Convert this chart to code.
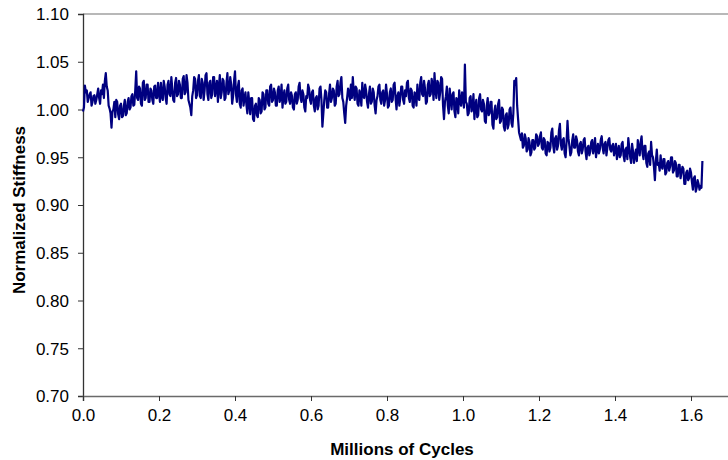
<!DOCTYPE html>
<html lang="en">
  <head>
    <meta charset="UTF-8" />
    <title>Normalized Stiffness</title>
    <style>
      body {
        margin: 0;
        background: #fff;
      }
      svg {
        font-family: "Liberation Sans", Arial, sans-serif;
      }
      .tick-label {
        fill: black;
        font-size: 17px;
      }
      .axis-title {
        fill: black;
        font-size: 17px;
        font-weight: bold;
        text-anchor: middle;
      }
      .line-path {
        fill: none;
        stroke: #000080;
        stroke-width: 2.2;
        stroke-linejoin: round;
      }
    </style>
  </head>
  <body>
    <script src="https://d3js.org/d3.v7.min.js"></script>
    <script>
      // millions of cycles between two readings
      const cycleStep = 0.0025;

      // normalized stiffness, one reading every 0.0025 million cycles
      const stiffness = [
        // 0.0
        0.998, 1.002, 1.025, 1.018, 1.020, 1.008, 1.012, 1.016, 1.018, 1.004,
        1.008, 1.014, 1.015, 1.006, 1.010, 1.016, 1.022, 1.012, 1.006, 1.020,
        1.016, 1.026, 1.012, 1.030, 1.038, 1.024, 1.020, 1.004, 1.001, 0.996,
        0.981, 0.998, 1.000, 1.008, 0.992, 1.010, 1.008, 0.995, 0.990, 1.004,
        // 0.1
        1.006, 0.992, 0.993, 1.004, 1.010, 0.994, 0.996, 1.008, 1.012, 1.000,
        1.002, 1.014, 1.016, 1.004, 1.005, 1.020, 1.040, 1.012, 1.010, 1.024,
        1.022, 1.006, 1.004, 1.028, 1.030, 1.010, 1.012, 1.026, 1.026, 1.008,
        1.008, 1.022, 1.020, 1.010, 1.006, 1.024, 1.025, 1.012, 1.012, 1.028,
        // 0.2
        1.018, 1.008, 1.028, 1.014, 1.010, 1.030, 1.024, 1.012, 1.006, 1.026,
        1.030, 1.016, 1.014, 1.034, 1.022, 1.010, 1.008, 1.028, 1.033, 1.014,
        1.016, 1.030, 1.026, 1.012, 1.012, 1.032, 1.035, 1.016, 1.018, 1.036,
        1.028, 1.010, 1.006, 1.002, 0.994, 1.014, 1.020, 1.034, 1.032, 1.012,
        // 0.3
        1.015, 1.030, 1.036, 1.014, 1.012, 1.032, 1.028, 1.010, 1.020, 1.036,
        1.038, 1.016, 1.010, 1.028, 1.030, 1.012, 1.016, 1.034, 1.034, 1.014,
        1.022, 1.030, 1.008, 1.024, 1.036, 1.012, 1.018, 1.032, 1.030, 1.010,
        1.012, 1.028, 1.038, 1.016, 1.020, 1.034, 1.026, 1.006, 1.014, 1.030,
        // 0.4
        1.040, 1.016, 1.008, 1.024, 1.030, 1.006, 1.002, 1.020, 1.022, 1.004,
        1.012, 1.018, 1.005, 0.996, 1.018, 1.008, 0.995, 1.012, 1.012, 0.990,
        0.988, 1.004, 1.006, 0.994, 0.992, 1.012, 1.010, 0.996, 0.998, 1.018,
        1.016, 1.000, 1.002, 1.020, 1.020, 1.006, 1.004, 1.024, 1.026, 1.008,
        // 0.5
        1.010, 1.022, 1.018, 1.004, 1.004, 1.020, 1.024, 1.008, 1.012, 1.026,
        1.002, 1.014, 1.020, 1.006, 1.008, 1.022, 1.026, 1.010, 1.006, 1.018,
        1.014, 1.002, 1.000, 1.016, 1.018, 1.006, 1.010, 1.024, 1.028, 1.012,
        1.008, 1.020, 1.016, 1.002, 0.998, 1.014, 1.012, 1.026, 1.022, 1.010,
        // 0.6
        1.006, 1.018, 1.020, 1.004, 0.998, 1.012, 1.014, 1.000, 1.004, 1.022,
        1.024, 1.010, 0.982, 0.996, 1.010, 1.020, 1.018, 1.002, 1.002, 1.016,
        1.026, 1.008, 1.012, 1.022, 1.020, 1.004, 1.006, 1.024, 1.030, 1.014,
        1.016, 1.028, 1.034, 1.012, 1.008, 0.996, 0.986, 1.004, 1.012, 1.022,
        // 0.7
        1.018, 1.010, 1.026, 1.012, 1.034, 1.018, 1.010, 1.024, 1.022, 1.006,
        1.004, 1.020, 1.016, 1.004, 1.028, 1.014, 1.012, 1.026, 1.020, 1.008,
        1.002, 1.016, 1.024, 1.006, 1.008, 1.022, 1.018, 1.004, 0.996, 1.010,
        1.014, 1.024, 1.026, 1.010, 1.006, 1.018, 1.020, 1.004, 1.010, 1.026,
        // 0.8
        1.016, 1.002, 1.004, 1.018, 1.022, 1.008, 1.010, 1.026, 1.028, 1.012,
        1.000, 1.014, 1.018, 1.004, 1.012, 1.024, 1.024, 1.010, 1.006, 1.020,
        1.014, 1.028, 1.030, 1.012, 1.008, 1.022, 1.020, 1.004, 1.002, 1.018,
        1.016, 1.004, 1.026, 1.012, 1.010, 1.028, 1.034, 1.016, 1.014, 1.030,
        // 0.9
        1.022, 1.006, 1.008, 1.026, 1.030, 1.014, 1.016, 1.032, 1.026, 1.010,
        1.038, 1.020, 1.012, 1.030, 1.028, 1.010, 1.018, 1.034, 1.032, 1.004,
        0.990, 1.008, 1.014, 1.024, 1.004, 0.996, 1.022, 1.010, 1.000, 1.016,
        1.018, 0.998, 0.992, 1.012, 1.010, 0.996, 1.020, 1.008, 1.004, 1.018,
        // 1.0
        1.012, 1.002, 1.047, 1.008, 1.006, 0.994, 0.996, 1.012, 1.014, 0.998,
        1.002, 1.016, 0.990, 1.004, 1.010, 0.992, 0.994, 1.012, 1.016, 1.000,
        0.998, 1.010, 1.006, 0.988, 0.986, 1.004, 1.012, 0.994, 0.996, 1.008,
        1.008, 0.984, 0.980, 0.998, 1.004, 0.990, 0.992, 1.006, 1.010, 0.986,
        // 1.1
        0.988, 1.002, 1.000, 0.982, 0.978, 0.994, 0.996, 0.980, 0.984, 1.000,
        1.002, 0.986, 0.982, 0.996, 1.030, 1.026, 1.033, 1.004, 0.990, 0.976,
        0.972, 0.968, 0.975, 0.960, 0.962, 0.974, 0.970, 0.956, 0.958, 0.970,
        0.966, 0.952, 0.955, 0.968, 0.968, 0.958, 0.960, 0.974, 0.972, 0.962,
        // 1.2
        0.964, 0.972, 0.976, 0.960, 0.958, 0.970, 0.968, 0.954, 0.952, 0.966,
        0.965, 0.956, 0.960, 0.976, 0.980, 0.962, 0.955, 0.970, 0.972, 0.958,
        0.962, 0.978, 0.985, 0.964, 0.958, 0.968, 0.970, 0.954, 0.950, 0.966,
        0.988, 0.970, 0.962, 0.952, 0.955, 0.968, 0.974, 0.960, 0.960, 0.972,
        // 1.3
        0.968, 0.956, 0.952, 0.964, 0.966, 0.954, 0.958, 0.968, 0.970, 0.956,
        0.948, 0.960, 0.962, 0.952, 0.956, 0.966, 0.968, 0.954, 0.960, 0.970,
        0.950, 0.958, 0.964, 0.954, 0.958, 0.968, 0.972, 0.960, 0.954, 0.964,
        0.966, 0.952, 0.960, 0.968, 0.970, 0.958, 0.956, 0.962, 0.964, 0.952,
        // 1.4
        0.958, 0.964, 0.948, 0.956, 0.962, 0.950, 0.952, 0.964, 0.966, 0.952,
        0.946, 0.958, 0.960, 0.948, 0.970, 0.960, 0.950, 0.944, 0.964, 0.956,
        0.944, 0.952, 0.958, 0.946, 0.968, 0.960, 0.952, 0.966, 0.972, 0.954,
        0.948, 0.962, 0.962, 0.944, 0.940, 0.954, 0.956, 0.942, 0.966, 0.952,
        // 1.5
        0.950, 0.940, 0.926, 0.946, 0.958, 0.942, 0.944, 0.936, 0.952, 0.940,
        0.938, 0.948, 0.948, 0.932, 0.934, 0.944, 0.946, 0.936, 0.940, 0.950,
        0.950, 0.934, 0.936, 0.946, 0.944, 0.930, 0.930, 0.942, 0.942, 0.928,
        0.934, 0.940, 0.938, 0.922, 0.922, 0.934, 0.936, 0.926, 0.928, 0.938,
        // 1.6
        0.934, 0.924, 0.916, 0.928, 0.930, 0.914, 0.918, 0.926, 0.922, 0.916,
        0.920, 0.918, 0.946,
      ];

      const xTicks = [0, 0.2, 0.4, 0.6, 0.8, 1.0, 1.2, 1.4, 1.6];
      const yTicks = [0.7, 0.75, 0.8, 0.85, 0.9, 0.95, 1.0, 1.05, 1.1];

      const width = 728;
      const height = 460;
      const plot = { left: 83, right: 729, top: 14, bottom: 396 };

      const svg = d3
        .select("body")
        .append("svg")
        .attr("width", width)
        .attr("height", height);

      const xScale = d3
        .scaleLinear()
        .domain([0, 1.7])
        .range([plot.left, plot.right]);

      const yScale = d3
        .scaleLinear()
        .domain([0.7, 1.1])
        .range([plot.bottom, plot.top]);

      // top border of the plot area
      svg
        .append("line")
        .attr("x1", plot.left)
        .attr("x2", width)
        .attr("y1", plot.top)
        .attr("y2", plot.top)
        .attr("stroke", "#a0a0a0")
        .attr("stroke-width", 1.3);

      const yAxis = svg
        .append("g")
        .attr("transform", `translate(${plot.left}, 0)`)
        .call(
          d3
            .axisLeft(yScale)
            .tickValues(yTicks)
            .tickSize(5)
            .tickPadding(9)
            .tickFormat(d3.format(".2f"))
        );
      yAxis.select(".domain").attr("stroke", "#333").attr("stroke-width", 1.3);
      yAxis.selectAll(".tick line").attr("stroke", "#333");
      yAxis
        .selectAll(".tick text")
        .attr("class", "tick-label")
        .attr("font-size", null)
        .attr("font-family", null)
        .attr("dy", "0.35em");

      const xAxis = svg
        .append("g")
        .attr("transform", `translate(0, ${plot.bottom})`)
        .call(
          d3
            .axisBottom(xScale)
            .tickValues(xTicks)
            .tickSize(5)
            .tickPadding(20)
            .tickFormat(d3.format(".1f"))
        );
      xAxis.select(".domain").attr("stroke", "#6a6a6a").attr("stroke-width", 1.6);
      xAxis.selectAll(".tick line").attr("stroke", "#333");
      xAxis
        .selectAll(".tick text")
        .attr("class", "tick-label")
        .attr("font-size", null)
        .attr("font-family", null)
        .attr("dy", "0em");

      const line = d3
        .line()
        .x((d, i) => xScale(i * cycleStep))
        .y((d) => yScale(d));

      svg
        .append("path")
        .attr("class", "line-path")
        .attr("d", line(stiffness));

      svg
        .append("text")
        .attr("class", "axis-title")
        .attr("x", 402)
        .attr("y", 455)
        .text("Millions of Cycles");

      svg
        .append("text")
        .attr("class", "axis-title")
        .attr("transform", "rotate(-90)")
        .attr("x", -210)
        .attr("y", 25)
        .text("Normalized Stiffness");
    </script>
  </body>
</html>
